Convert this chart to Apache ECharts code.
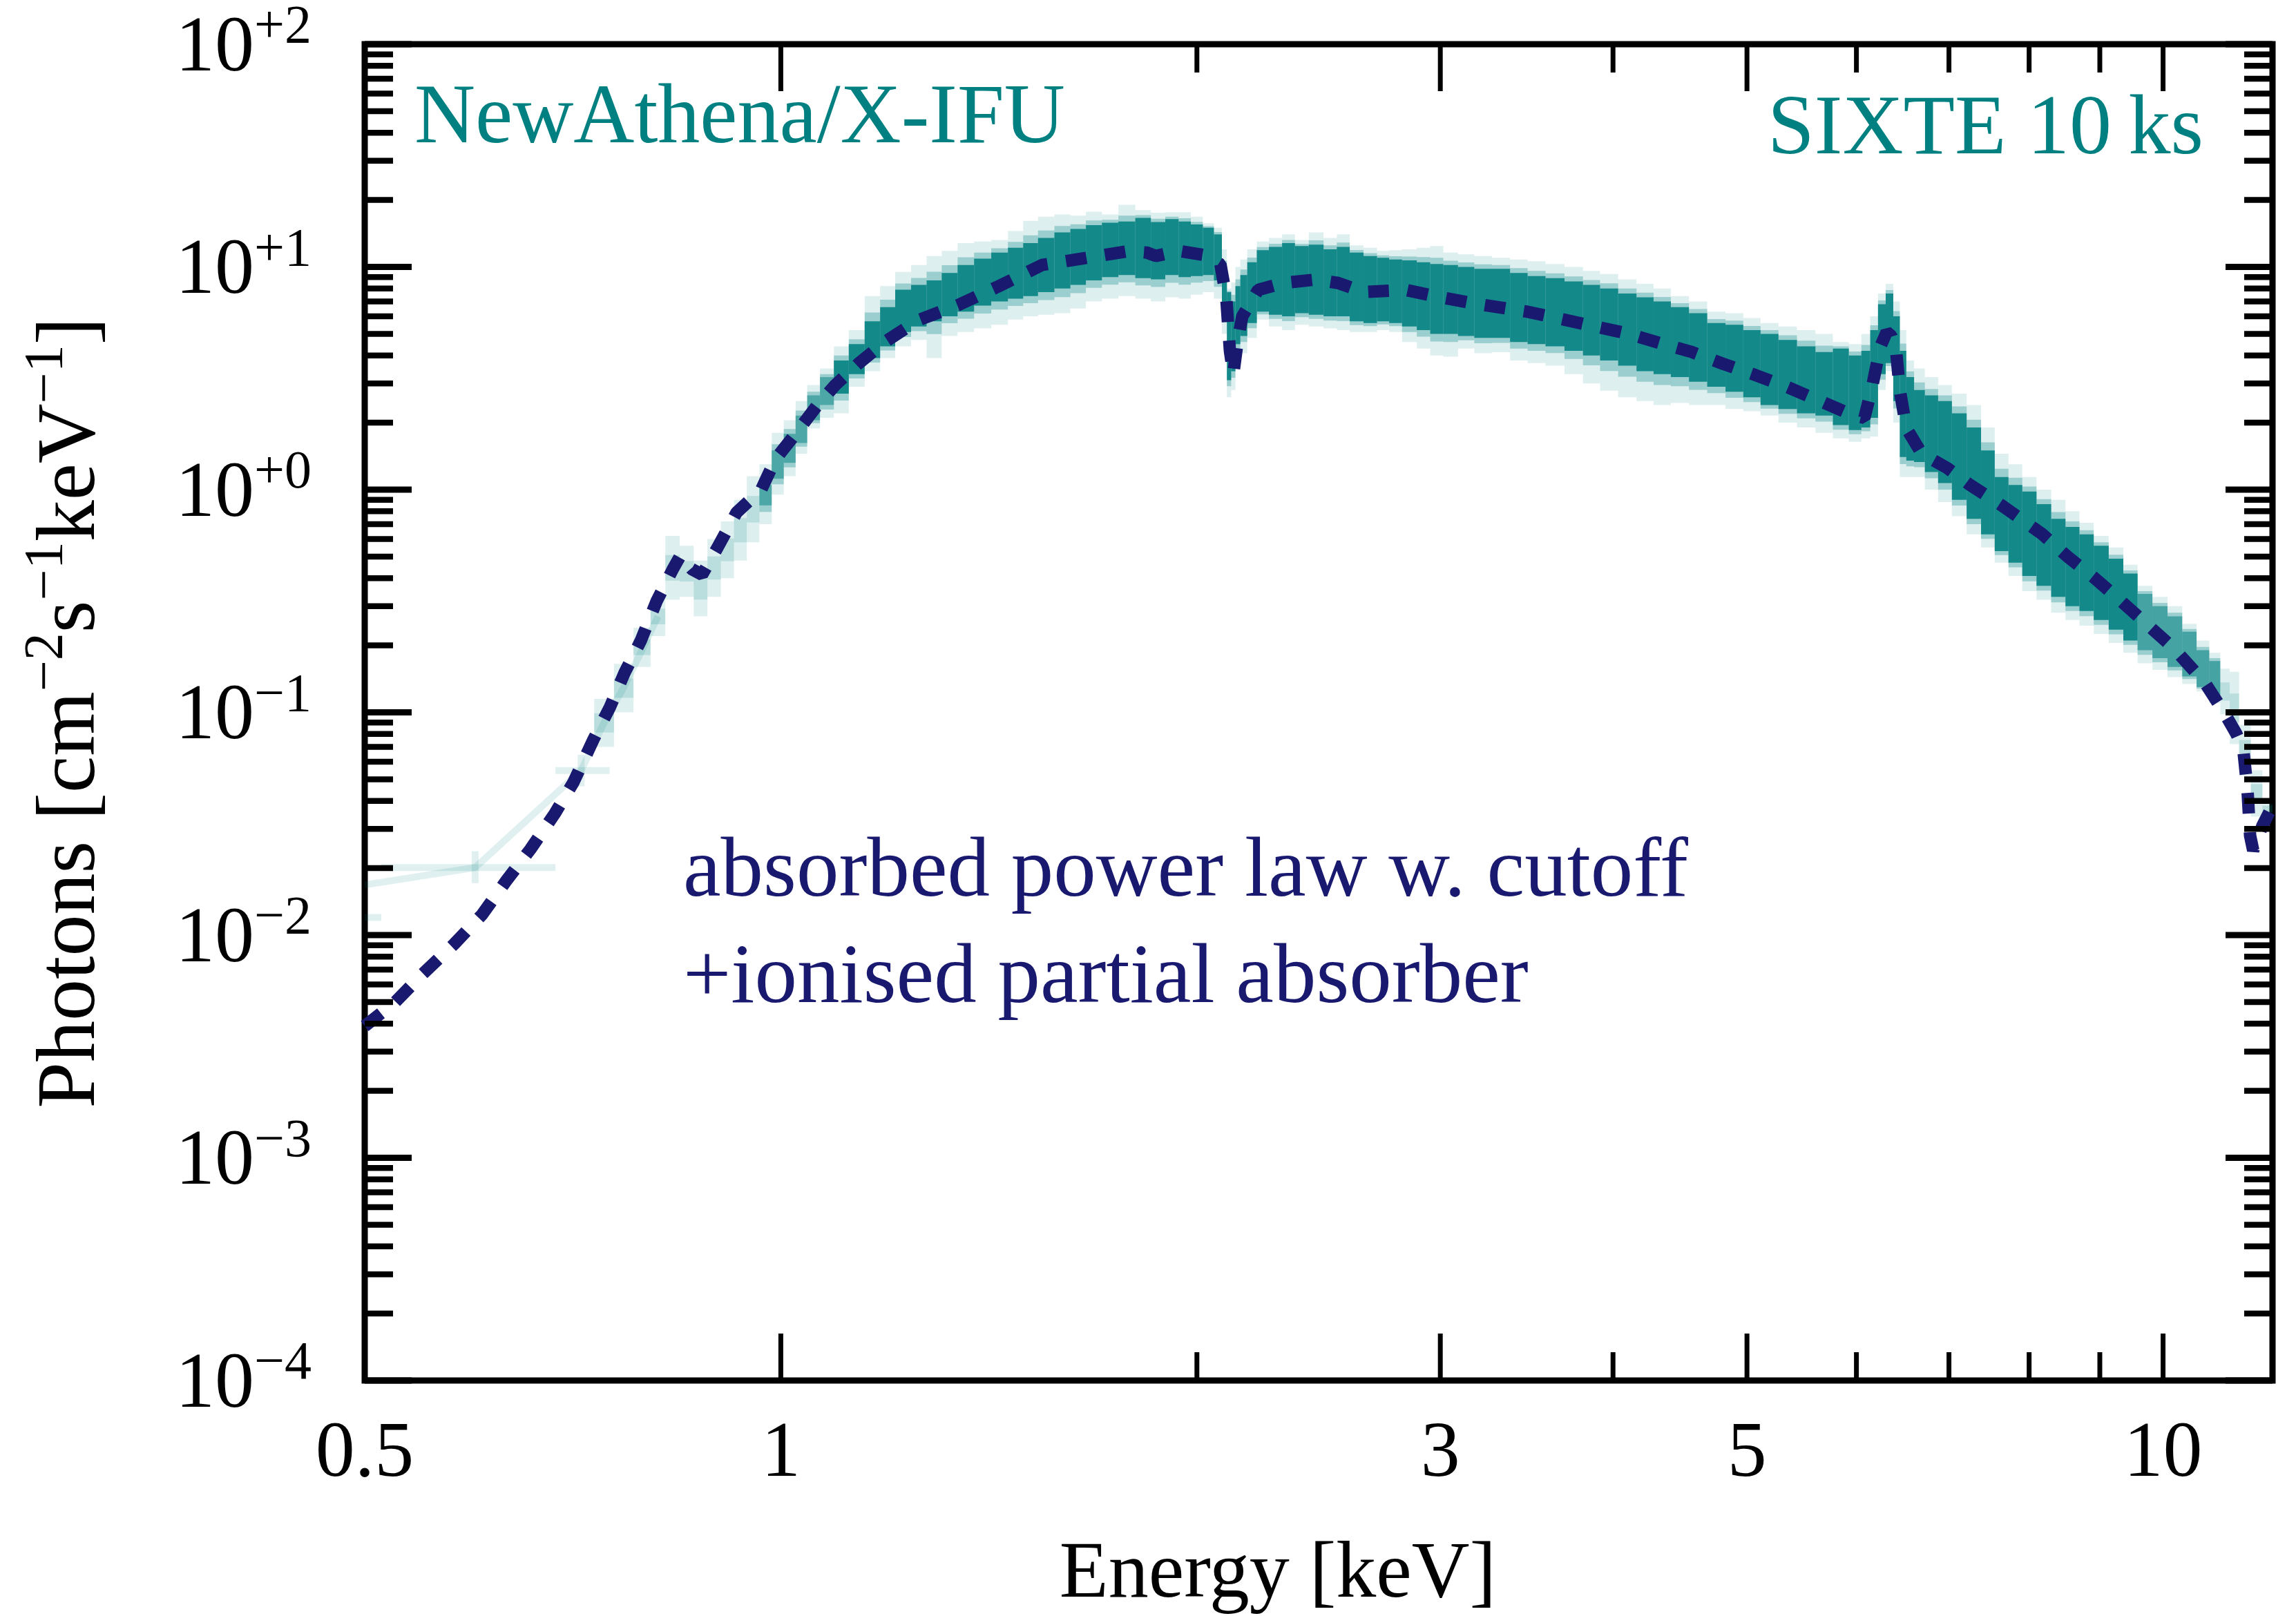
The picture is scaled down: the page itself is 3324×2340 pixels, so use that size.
<!DOCTYPE html>
<html><head><meta charset="utf-8">
<script src="https://cdn.jsdelivr.net/npm/echarts@6/dist/echarts.min.js"></script>
<style>html,body{margin:0;padding:0;background:#fff}#c{width:3324px;height:2340px}</style>
</head><body><div id="c"></div>
<script>
const FONT = '"Liberation Serif", "Times New Roman", serif';
const TEAL = '#008080';
const NAVY = '#191970';

// ---- model curve (absorbed power law w. cutoff + ionised partial absorber) ----
const modelE = [0.5,0.526,0.55,0.58,0.608,0.633,0.659,0.686,0.708,0.732,
  0.752,0.771,0.792,0.813,0.835,0.846,0.862,0.877,0.9,0.929,
  0.968,0.991,1.024,1.061,1.095,1.138,1.189,1.257,1.344,1.437,
  1.545,1.676,1.784,1.84,1.868,1.94,2.03,2.08,2.1,2.113,
  2.125,2.14,2.157,2.215,2.31,2.44,2.53,2.64,2.83,2.985,
  3.18,3.47,3.69,4.1,4.32,4.56,4.8,5.07,5.34,5.63,
  5.94,6.08,6.16,6.24,6.31,6.36,6.41,6.45,6.52,6.69,
  6.98,7.25,7.64,8.17,8.53,8.9,9.25,9.65,10.18,10.72,
  11.08,11.3,11.43,11.51,11.56,11.62,11.8,12.0];
const modelV = [0.0039,0.0050,0.00664,0.00908,0.01236,0.01754,0.0243,0.035,0.0486,0.0757,
  0.105,0.151,0.21,0.315,0.437,0.505,0.44,0.415,0.55,0.79,
  1.0,1.37,1.77,2.36,2.95,3.68,4.6,5.76,6.75,8.18,
  10.2,11.06,11.77,11.6,11.2,11.8,11.27,10.26,7.35,4.2,
  3.3,4.6,6.0,7.89,8.47,8.78,8.47,7.72,7.89,7.35,
  6.84,6.29,5.79,5.02,4.56,4.15,3.68,3.27,2.9,2.52,
  2.18,2.1,2.9,4.34,5.1,4.9,4.21,2.79,1.89,1.45,
  1.25,1.05,0.851,0.634,0.5,0.406,0.33,0.261,0.194,0.136,
  0.099,0.08,0.068,0.045,0.028,0.024,0.031,0.038];

// ---- simulated SIXTE spectra: envelope of the realisations per energy bin ----
const bandE = [0.745,0.77,0.795,0.815,0.835,0.855,0.875,0.895,0.915,0.935,
  0.955,0.975,0.995,1.015,1.035,1.055,1.08,1.105,1.135,1.165,
  1.195,1.225,1.26,1.29,1.325,1.36,1.4,1.44,1.48,1.515,
  1.555,1.6,1.64,1.685,1.73,1.78,1.83,1.875,1.92,1.96,
  2.0,2.04,2.075,2.095,2.11,2.125,2.14,2.16,2.19,2.23,
  2.28,2.33,2.38,2.44,2.5,2.55,2.61,2.67,2.73,2.78,
  2.85,2.92,2.98,3.05,3.13,3.22,3.32,3.42,3.52,3.63,
  3.75,3.86,3.97,4.1,4.22,4.34,4.47,4.61,4.75,4.9,
  5.04,5.19,5.35,5.52,5.69,5.85,6.0,6.1,6.18,6.26,
  6.34,6.42,6.48,6.56,6.65,6.8,6.95,7.12,7.3,7.47,
  7.64,7.82,8.0,8.2,8.4,8.6,8.8,9.02,9.25,9.47,
  9.7,9.95,10.2,10.45,10.7,10.9,11.1,11.25,11.45,11.7,
  11.9];
const bandFaintLo = [0.07,0.1,0.16,0.22,0.32,0.33,0.27,0.33,0.4,0.48,
  0.58,0.7,0.95,1.15,1.45,1.88,2.1,2.2,2.9,3.4,
  3.9,4.4,4.7,3.9,4.9,5.1,5.3,5.5,5.8,6.0,
  6.1,6.2,6.5,7.0,7.2,7.4,7.2,7.0,7.3,7.2,
  7.5,7.7,7.2,5.0,2.6,2.8,3.8,4.1,4.8,5.8,
  5.4,5.2,5.5,5.4,5.3,5.2,5.1,5.1,5.2,5.1,
  4.6,4.3,4.0,3.95,4.3,4.1,4.14,3.8,3.7,3.6,
  3.3,3.0,2.78,2.6,2.5,2.4,2.45,2.4,2.4,2.3,
  2.25,2.15,2.0,1.9,1.8,1.7,1.64,1.7,1.73,2.8,
  3.4,2.0,1.14,1.14,1.14,1.0,0.88,0.76,0.63,0.55,
  0.47,0.41,0.35,0.32,0.28,0.26,0.245,0.225,0.205,0.185,
  0.166,0.155,0.144,0.134,0.124,0.11,0.098,0.072,0.052,0.034,
  0.034];
const bandFaintHi = [0.115,0.165,0.24,0.33,0.62,0.56,0.48,0.6,0.72,0.9,
  1.15,1.3,1.8,2.05,2.5,2.95,3.5,4.4,5.2,7.4,
  8.2,9.5,10.2,11.2,11.8,12.8,13.0,13.2,14.5,16.1,
  16.8,17.2,17.0,17.7,17.2,19.0,18.0,17.5,17.6,17.6,
  16.8,15.7,15.0,12.0,8.0,8.5,10.0,10.8,12.0,13.0,
  13.5,14.0,13.2,14.3,13.5,14.0,12.5,12.2,11.8,11.9,
  12.0,12.2,12.4,11.6,11.4,11.2,11.0,10.8,10.6,10.3,
  10.0,9.6,9.3,8.8,8.4,8.0,7.4,7.0,6.3,6.2,
  5.9,5.6,5.4,5.2,5.0,4.6,4.5,5.0,6.0,7.6,
  8.4,7.0,5.2,3.8,3.5,3.2,2.95,2.7,2.4,1.9,
  1.45,1.3,1.14,1.0,0.9,0.8,0.71,0.62,0.55,0.46,
  0.37,0.33,0.3,0.25,0.21,0.185,0.157,0.152,0.088,0.055,
  0.04];
const bandCoreLo = [null,null,null,null,null,null,null,null,null,null,
  null,0.85,1.12,1.32,1.62,2.05,2.4,2.7,3.3,3.9,
  4.4,5.1,5.4,5.7,6.0,6.3,6.7,7.0,7.2,7.4,
  7.7,8.0,8.3,8.7,9.0,9.2,8.9,8.8,9.2,9.0,
  9.1,9.2,8.7,6.0,3.1,3.4,4.5,4.9,5.6,6.3,
  6.1,6.0,6.2,6.1,6.0,6.0,5.7,5.6,5.7,5.6,
  5.4,5.2,5.0,5.0,4.9,4.8,4.8,4.6,4.5,4.4,
  4.2,4.0,3.8,3.6,3.4,3.3,3.2,3.05,2.9,2.75,
  2.6,2.4,2.3,2.2,2.15,1.95,1.85,1.9,2.1,3.3,
  3.7,2.5,1.4,1.35,1.33,1.2,1.07,0.9,0.74,0.63,
  0.53,0.47,0.41,0.37,0.33,0.3,0.285,0.26,0.235,0.21,
  0.19,0.175,0.16,0.145,0.13,0.12,null,null,null,null,
  null];
const bandCoreHi = [null,null,null,null,null,null,null,null,null,null,
  null,1.05,1.5,1.78,2.15,2.65,3.2,3.8,4.5,5.7,
  6.6,7.9,8.3,8.7,9.4,10.2,10.9,11.6,12.2,12.8,
  13.5,14.3,14.8,15.4,15.8,16.0,16.6,15.9,16.4,16.0,
  15.5,15.0,14.0,10.0,7.7,7.0,8.2,9.2,10.5,11.9,
  12.3,12.8,12.4,12.6,12.0,12.3,11.6,11.2,11.0,10.8,
  10.7,10.5,10.3,10.2,10.0,9.8,9.8,9.4,9.1,8.9,
  8.6,8.3,8.0,7.6,7.3,7.0,6.6,6.2,5.6,5.5,
  5.2,5.0,4.7,4.4,4.15,4.3,4.0,4.2,5.2,6.8,
  7.6,6.0,4.2,3.2,2.8,2.65,2.5,2.2,1.9,1.5,
  1.14,1.05,0.98,0.86,0.74,0.68,0.63,0.56,0.49,0.42,
  0.34,0.3,0.27,0.23,0.19,0.17,null,null,null,null,
  null];

// ---- low-energy sparse bins (faint crosses) ----
const lowE    = [0.48, 0.601, 0.717];
const lowV    = [0.012, 0.0201, 0.0548];
const lowELo  = [0.45, 0.514, 0.687];
const lowEHi  = [0.514, 0.687, 0.752];
const lowVLo  = [0.0105, 0.0171, 0.0465];
const lowVHi  = [0.0135, 0.0238, 0.0645];
const lowLineE = [0.5, 0.601, 0.717, 0.745, 0.77, 0.795, 0.815];
const lowLineV = [0.0168, 0.0201, 0.0548, 0.09, 0.13, 0.195, 0.27];

// ---- axes ----
const xMajorTicks = [1, 3, 5, 10];
const xMinorTicks = [2, 4, 6, 7, 8, 9];
const xTickLabels = [0.5, 1, 3, 5, 10];
const yDecades = [1e-4, 1e-3, 1e-2, 1e-1, 1, 10, 100];
const yExponents = ['\u22124', '\u22123', '\u22122', '\u22121', '+0', '+1', '+2'];
const yMinorMult = [2, 3, 4, 5, 6, 7, 8, 9];
const yMinorTicks = [];
yDecades.slice(0, -1).forEach(d => yMinorMult.forEach(m => yMinorTicks.push(d * m)));

const MAJ = 68, MIN = 41;

function tickSeries(values, isX, len, width) {
  return {
    type: 'custom', coordinateSystem: 'cartesian2d', silent: true, clip: false, z: 20,
    data: values.map(v => isX ? [v, 1] : [1, v]),
    renderItem(params, api) {
      const cs = params.coordSys;
      const p = api.coord([api.value(0), api.value(1)]);
      const style = { stroke: '#000', lineWidth: width };
      if (isX) {
        const x = p[0], yb = cs.y + cs.height, yt = cs.y;
        return { type: 'group', children: [
          { type: 'line', shape: { x1: x, y1: yb, x2: x, y2: yb - len }, style },
          { type: 'line', shape: { x1: x, y1: yt, x2: x, y2: yt + len }, style }
        ] };
      }
      const y = p[1], xl = cs.x, xr = cs.x + cs.width;
      return { type: 'group', children: [
        { type: 'line', shape: { x1: xl, y1: y, x2: xl + len, y2: y }, style },
        { type: 'line', shape: { x1: xr, y1: y, x2: xr - len, y2: y }, style }
      ] };
    }
  };
}

function edge(arr, i, side) {
  if (side < 0) return i > 0 ? Math.sqrt(arr[i - 1] * arr[i]) : arr[i] / Math.sqrt(arr[i + 1] / arr[i]);
  return i < arr.length - 1 ? Math.sqrt(arr[i + 1] * arr[i]) : arr[i] * Math.sqrt(arr[i] / arr[i - 1]);
}

function rectBetween(api, e0, e1, v0, v1, fill) {
  const a = api.coord([e0, v1]);
  const b = api.coord([e1, v0]);
  return { type: 'rect', shape: { x: a[0], y: a[1], width: b[0] - a[0], height: b[1] - a[1] },
    style: { fill: fill } };
}

const option = {
  animation: false,
  backgroundColor: '#fff',
  grid: { left: 528, right: 34, top: 64, bottom: 341, show: true, borderColor: '#000', borderWidth: 9,
    backgroundColor: 'transparent', containLabel: false, outerBoundsMode: 'none' },
  xAxis: { type: 'log', logBase: 10, min: 0.5, max: 12,
    axisLine: { show: false }, axisTick: { show: false }, axisLabel: { show: false }, splitLine: { show: false } },
  yAxis: { type: 'log', logBase: 10, min: 1e-4, max: 100,
    axisLine: { show: false }, axisTick: { show: false }, axisLabel: { show: false }, splitLine: { show: false } },
  series: [
    { type: 'line', data: lowLineE.map((e, i) => [e, lowLineV[i]]), symbol: 'none', silent: true, z: 2,
      lineStyle: { color: 'rgba(0,128,128,0.12)', width: 10 } },
    { type: 'custom', coordinateSystem: 'cartesian2d', silent: true, clip: true, z: 2,
      data: lowE.map((e, i) => [e, lowV[i]]),
      renderItem(params, api) {
        const i = params.dataIndex;
        const st = { stroke: 'rgba(0,128,128,0.12)', lineWidth: 10 };
        const h0 = api.coord([lowELo[i], lowV[i]]), h1 = api.coord([lowEHi[i], lowV[i]]);
        const v0 = api.coord([lowE[i], lowVLo[i]]), v1 = api.coord([lowE[i], lowVHi[i]]);
        return { type: 'group', children: [
          { type: 'line', shape: { x1: h0[0], y1: h0[1], x2: h1[0], y2: h1[1] }, style: st },
          { type: 'line', shape: { x1: v0[0], y1: v0[1], x2: v1[0], y2: v1[1] }, style: st }
        ] };
      } },
    { type: 'custom', coordinateSystem: 'cartesian2d', silent: true, clip: true, z: 3,
      data: bandE.map((e, i) => [e, bandFaintLo[i]]),
      renderItem(params, api) {
        const i = params.dataIndex;
        const E = bandE[i];
        const e0 = edge(bandE, i, -1), e1 = edge(bandE, i, 1);
        const fl = bandFaintLo[i], fh = bandFaintHi[i], cl = bandCoreLo[i], ch = bandCoreHi[i];
        // fewer counts at the spectrum ends -> the stacked realisations look lighter there
        const coreA = E < 1.1 ? 0.5 : (E > 9.6 ? 0.55 : 0.88);
        const kids = [rectBetween(api, e0, e1, fl, fh, 'rgba(0,128,128,0.13)')];
        if (cl != null) {
          kids.push(rectBetween(api, e0, e1, Math.pow(fl, 0.35) * Math.pow(cl, 0.65), Math.pow(fh, 0.35) * Math.pow(ch, 0.65), 'rgba(0,128,128,0.3)'));
          kids.push(rectBetween(api, e0, e1, cl, ch, 'rgba(0,128,128,' + coreA + ')'));
        } else {
          kids.push(rectBetween(api, e0, e1, Math.pow(fl, 0.7) * Math.pow(fh, 0.3), Math.pow(fl, 0.3) * Math.pow(fh, 0.7), 'rgba(0,128,128,0.16)'));
        }
        return { type: 'group', children: kids };
      } },
    { type: 'line', data: modelE.map((e, i) => [e, modelV[i]]), symbol: 'none', silent: true, z: 5,
      lineStyle: { color: NAVY, width: 18, type: [30, 27], cap: 'butt', join: 'bevel' } },
    tickSeries(xMajorTicks, true, MAJ, 7),
    tickSeries(xMinorTicks, true, MIN, 7),
    tickSeries(yDecades, false, MAJ, 9),
    tickSeries(yMinorTicks, false, MIN, 8.5),
    { type: 'custom', coordinateSystem: 'cartesian2d', silent: true, clip: false, z: 20,
      data: xTickLabels.map(v => [v, 1]),
      renderItem(params, api) {
        const cs = params.coordSys;
        const p = api.coord([api.value(0), 1]);
        return { type: 'text', x: p[0], y: cs.y + cs.height + 108,
          style: { text: String(xTickLabels[params.dataIndex]), fill: '#000', fontSize: 114, fontFamily: FONT,
            align: 'center', verticalAlign: 'middle' } };
      } },
    { type: 'custom', coordinateSystem: 'cartesian2d', silent: true, clip: false, z: 20,
      data: yDecades.map(v => [1, v]),
      renderItem(params, api) {
        const cs = params.coordSys;
        const p = api.coord([1, api.value(1)]);
        return { type: 'text', x: cs.x - 77, y: p[1] + 8,
          style: { text: '{b|10}{s|' + yExponents[params.dataIndex] + '}', fill: '#000', fontFamily: FONT,
            align: 'right', verticalAlign: 'middle',
            rich: { b: { fontSize: 114, lineHeight: 140, fontFamily: FONT, fill: '#000' },
                    s: { fontSize: 78, lineHeight: 80, verticalAlign: 'top', fontFamily: FONT, fill: '#000' } } } };
      } }
  ],
  graphic: [
    { type: 'text', x: 600, y: 174, silent: true,
      style: { text: 'NewAthena/X-IFU', fill: TEAL, fontSize: 122, fontFamily: FONT, align: 'left', verticalAlign: 'middle' } },
    { type: 'text', x: 3190, y: 190, silent: true,
      style: { text: 'SIXTE 10\u2009ks', fill: TEAL, fontSize: 122, fontFamily: FONT, align: 'right', verticalAlign: 'middle' } },
    { type: 'text', x: 989, y: 1265, silent: true,
      style: { text: 'absorbed power law w. cutoff', fill: NAVY, fontSize: 123, fontFamily: FONT, align: 'left', verticalAlign: 'middle' } },
    { type: 'text', x: 989, y: 1419, silent: true,
      style: { text: '+ionised partial absorber', fill: NAVY, fontSize: 123, fontFamily: FONT, align: 'left', verticalAlign: 'middle' } },
    { type: 'text', x: 1850, y: 2282, silent: true,
      style: { text: 'Energy [keV]', fill: '#000', fontSize: 116, fontFamily: FONT, align: 'center', verticalAlign: 'middle' } },
    { type: 'text', x: 104, y: 1032, rotation: Math.PI / 2, silent: true,
      style: { text: '{b|Photons [cm}{s|\u22122}{b|s}{s|\u22121}{b|keV}{s|\u22121}{b|]}', fill: '#000',
        fontFamily: FONT, align: 'center', verticalAlign: 'middle',
        rich: { b: { fontSize: 120, lineHeight: 150, fontFamily: FONT, fill: '#000' },
                s: { fontSize: 80, lineHeight: 84, verticalAlign: 'top', fontFamily: FONT, fill: '#000' } } } }
  ]
};

const chart = echarts.init(document.getElementById('c'), null, { renderer: 'canvas', width: 3324, height: 2340 });
chart.setOption(option);
</script>
</body></html>
